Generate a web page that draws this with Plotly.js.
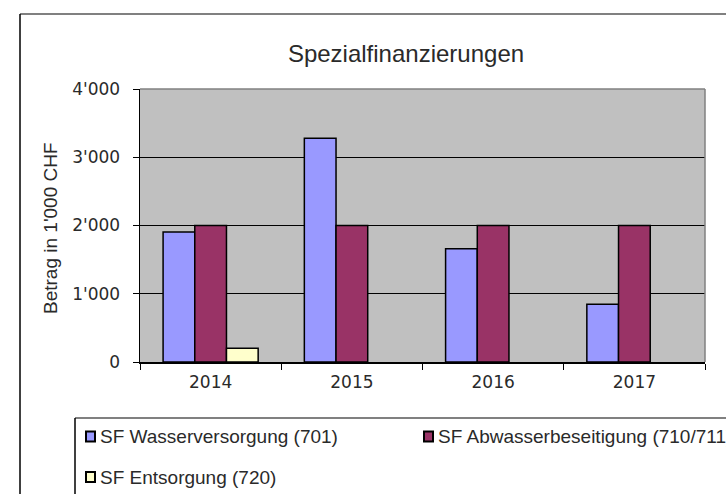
<!DOCTYPE html>
<html>
<head>
<meta charset="utf-8">
<script src="https://cdn.plot.ly/plotly-3.0.1.min.js"></script>
<style>html,body{margin:0;padding:0;background:#fff;}#chart{width:726px;height:494px;}</style>
</head>
<body>
<div id="chart"></div>
<script>
const years = ['2014', '2015', '2016', '2017'];
const wasser = [1905, 3280, 1660, 845];
const abwasser = [2000, 2000, 2000, 2000];
const entsorgung = [200, null, null, null];
const seriesNames = ['SF Wasserversorgung (701)', 'SF Abwasserbeseitigung (710/711)', 'SF Entsorgung (720)'];
const seriesColors = ['#9999FF', '#993366', '#FFFFCC'];
const yTicks = [0, 1000, 2000, 3000, 4000];

const textFont = 'Liberation Sans, Arial, sans-serif';
const numFont = 'DejaVu Sans, Verdana, sans-serif';
const textColor = '#2a2a2a';

const W = 726, H = 494;
const L = 140, R = 21, T = 89, B = 132;
const pw = W - L - R, ph = H - T - B;
const px = x => (x - L) / pw;
const py = y => (H - B - y) / ph;

const data = [wasser, abwasser, entsorgung].map((v, i) => ({
  type: 'bar', x: years, y: v, name: seriesNames[i],
  marker: {color: seriesColors[i], line: {color: '#000', width: 1.5}},
  hoverinfo: 'skip', showlegend: false
}));

// manual legend placement (pixel positions of each entry: square left x, row center y)
const legendPos = [[85, 436.5], [423, 436.5], [85, 477]];
const legendShapes = [];
const legendAnn = [];
seriesNames.forEach((n, i) => {
  const [lx, cy] = legendPos[i];
  legendShapes.push({type: 'rect', xref: 'paper', yref: 'paper',
    x0: px(lx + 1), x1: px(lx + 10), y0: py(cy - 5), y1: py(cy + 5),
    fillcolor: seriesColors[i], line: {color: '#000', width: 2}});
  legendAnn.push({text: n, xref: 'paper', yref: 'paper', x: px(lx + 13), y: py(cy),
    xanchor: 'left', yanchor: 'middle', showarrow: false,
    font: {family: textFont, size: 19, color: textColor}});
});

const layout = {
  width: W, height: H,
  margin: {l: L, r: R, t: T, b: B},
  paper_bgcolor: '#fff',
  plot_bgcolor: '#C0C0C0',
  separators: ".'",
  barmode: 'group', bargap: 0.327, bargroupgap: 0,
  showlegend: false,
  title: {text: 'Spezialfinanzierungen', font: {family: textFont, size: 24, color: textColor},
          x: 406 / W, xref: 'container', xanchor: 'center', y: 1 - 54 / H, yref: 'container', yanchor: 'middle'},
  xaxis: {
    type: 'category', tickson: 'boundaries', ticks: 'outside', ticklen: 6, tickcolor: '#000',
    showline: true, linecolor: '#000', linewidth: 1.5, showgrid: false,
    ticklabelstandoff: 4,
    tickfont: {family: numFont, size: 17, color: textColor}, fixedrange: true
  },
  yaxis: {
    range: [0, 4000], tickvals: yTicks, tickformat: ',d', ticks: 'outside', ticklen: 6, tickcolor: '#000',
    showline: true, linecolor: '#000', linewidth: 1.5,
    showgrid: true, gridcolor: '#000', gridwidth: 1, zeroline: false,
    ticklabelstandoff: 9,
    tickfont: {family: numFont, size: 17, color: textColor}, fixedrange: true
  },
  annotations: [{
    text: "Betrag in 1'000 CHF", xref: 'paper', yref: 'paper', x: px(50), y: py(228),
    xanchor: 'center', yanchor: 'middle', textangle: -90, showarrow: false,
    font: {family: textFont, size: 19, color: textColor}
  }].concat(legendAnn),
  shapes: [
    {type: 'line', xref: 'paper', yref: 'paper', x0: 0, x1: 1, y0: 1, y1: 1, line: {color: '#808080', width: 1.5}},
    {type: 'line', xref: 'paper', yref: 'paper', x0: 1, x1: 1, y0: 0, y1: 1, line: {color: '#808080', width: 1.5}},
    {type: 'line', xref: 'paper', yref: 'paper', x0: px(20), x1: px(760), y0: py(14), y1: py(14), line: {color: '#808080', width: 2}},
    {type: 'line', xref: 'paper', yref: 'paper', x0: px(20), x1: px(20), y0: py(14), y1: py(520), line: {color: '#000', width: 1.5}},
    {type: 'line', xref: 'paper', yref: 'paper', x0: px(75), x1: px(760), y0: py(418), y1: py(418), line: {color: '#808080', width: 2}},
    {type: 'line', xref: 'paper', yref: 'paper', x0: px(75), x1: px(75), y0: py(418), y1: py(520), line: {color: '#000', width: 1.5}}
  ].concat(legendShapes)
};

Plotly.newPlot('chart', data, layout, {displayModeBar: false, staticPlot: true});
</script>
</body>
</html>
